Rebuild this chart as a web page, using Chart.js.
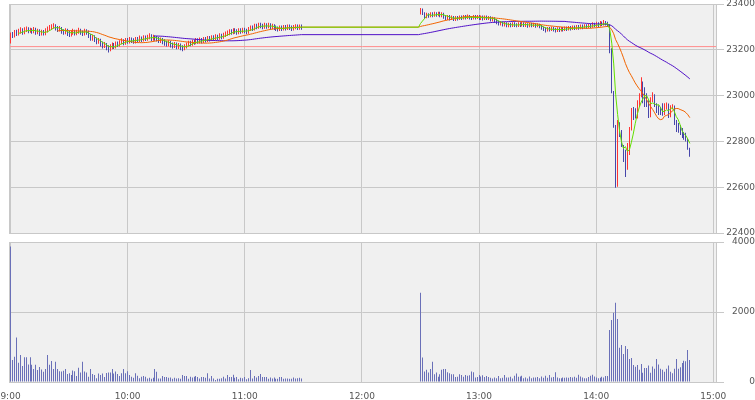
<!DOCTYPE html>
<html>
<head>
<meta charset="utf-8">
<script src="https://cdn.jsdelivr.net/npm/chart.js@4/dist/chart.umd.min.js"></script>
<style>
  html, body { margin: 0; padding: 0; background: #fff; }
  #wrap { position: relative; width: 755px; height: 400px; }
  canvas { position: absolute; left: 0; }
  #priceChart { top: 0; }
  #volumeChart { top: 236px; }
</style>
</head>
<body>
<div id="wrap">
  <canvas id="priceChart" width="755" height="236"></canvas>
  <canvas id="volumeChart" width="755" height="164"></canvas>
</div>
<script>
// minutes after 9:00; morning session then afternoon session (lunch gap in between)
const amStart = 0;
const pmStart = 210;
const amOpen = 23230;
const pmOpen = 23356;
const prevClose = 23214;

const priceTicks = [22400, 22600, 22800, 23000, 23200, 23400];
const volumeTicks = [0, 2000, 4000];
const hourTicks = [0, 60, 120, 180, 240, 300, 360];

const amHigh = [
  23276, 23278, 23286, 23288, 23292, 23298, 23294, 23298, 23302, 23298,
  23296, 23294, 23300, 23296, 23292, 23290, 23288, 23286, 23294, 23302,
  23308, 23312, 23316, 23312, 23304, 23304, 23300, 23290, 23294, 23292,
  23282, 23284, 23292, 23288, 23288, 23296, 23292, 23284, 23292, 23290,
  23284, 23270, 23266, 23264, 23254, 23252, 23248, 23236, 23234, 23230,
  23220, 23224, 23232, 23230, 23236, 23236, 23242, 23250, 23246, 23252,
  23252, 23256, 23254, 23250, 23256, 23256, 23262, 23258, 23264, 23262,
  23266, 23272, 23268, 23266, 23264, 23260, 23256, 23254, 23252, 23246,
  23240, 23242, 23240, 23232, 23234, 23232, 23230, 23228, 23220, 23224,
  23232, 23240, 23240, 23244, 23244, 23252, 23250, 23254, 23252, 23256,
  23256, 23260, 23260, 23264, 23264, 23268, 23266, 23272, 23270, 23274,
  23280, 23284, 23290, 23290, 23294, 23294, 23290, 23294, 23294, 23296,
  23296, 23292, 23300, 23306, 23306, 23314, 23314, 23318, 23318, 23314,
  23318, 23316, 23318, 23316, 23314, 23312, 23306, 23302, 23306, 23306,
  23308, 23308, 23310, 23310, 23306, 23308, 23312, 23310, 23310, 23310
];
const amLow = [
  23228, 23252, 23254, 23260, 23262, 23270, 23266, 23268, 23278, 23272,
  23274, 23270, 23272, 23266, 23268, 23260, 23262, 23262, 23264, 23276,
  23282, 23286, 23292, 23284, 23278, 23280, 23270, 23266, 23268, 23260,
  23256, 23258, 23266, 23262, 23264, 23270, 23266, 23260, 23262, 23266,
  23252, 23240, 23240, 23234, 23224, 23226, 23214, 23206, 23208, 23198,
  23188, 23194, 23202, 23204, 23206, 23212, 23214, 23224, 23220, 23222,
  23226, 23228, 23230, 23226, 23228, 23232, 23234, 23234, 23236, 23238,
  23240, 23246, 23238, 23240, 23240, 23236, 23230, 23230, 23224, 23218,
  23214, 23216, 23210, 23206, 23208, 23202, 23204, 23198, 23194, 23198,
  23206, 23214, 23216, 23218, 23222, 23224, 23226, 23228, 23228, 23230,
  23232, 23234, 23236, 23238, 23240, 23242, 23242, 23244, 23246, 23248,
  23256, 23260, 23264, 23266, 23268, 23270, 23266, 23268, 23270, 23272,
  23272, 23268, 23270, 23282, 23282, 23284, 23290, 23292, 23294, 23290,
  23292, 23292, 23294, 23288, 23290, 23286, 23282, 23280, 23282, 23282,
  23284, 23284, 23286, 23286, 23282, 23284, 23290, 23286, 23288, 23288
];
const amClose = [
  23268, 23262, 23275, 23270, 23280, 23284, 23276, 23286, 23290, 23282,
  23285, 23280, 23288, 23276, 23282, 23270, 23278, 23272, 23284, 23290,
  23296, 23300, 23305, 23294, 23288, 23292, 23280, 23276, 23284, 23270,
  23268, 23274, 23280, 23272, 23278, 23284, 23276, 23270, 23282, 23276,
  23262, 23250, 23256, 23244, 23236, 23240, 23226, 23218, 23222, 23210,
  23204, 23212, 23220, 23214, 23226, 23222, 23232, 23238, 23230, 23242,
  23236, 23244, 23240, 23236, 23246, 23242, 23250, 23244, 23252, 23248,
  23254, 23260, 23248, 23256, 23250, 23246, 23240, 23244, 23236, 23230,
  23226, 23232, 23222, 23218, 23224, 23214, 23220, 23210, 23206, 23214,
  23222, 23230, 23226, 23234, 23232, 23240, 23236, 23244, 23238, 23246,
  23242, 23250, 23246, 23254, 23250, 23258, 23252, 23262, 23256, 23264,
  23268, 23272, 23280, 23276, 23284, 23280, 23276, 23284, 23280, 23286,
  23282, 23278, 23290, 23296, 23292, 23304, 23300, 23308, 23304, 23300,
  23306, 23302, 23308, 23298, 23304, 23296, 23292, 23290, 23296, 23292,
  23298, 23294, 23300, 23296, 23292, 23298, 23302, 23296, 23300, 23298
];
const amVolume = [
  3870, 630, 720, 1270, 550, 770, 460, 710, 710, 500,
  710, 490, 370, 490, 340, 430, 360, 290, 370, 770,
  490, 600, 370, 580, 370, 310, 300, 320, 370, 230,
  250, 200, 330, 310, 170, 410, 270, 580, 300, 270,
  150, 370, 230, 200, 110, 240, 200, 240, 140, 260,
  270, 270, 370, 240, 300, 230, 170, 250, 370, 250,
  310, 200, 150, 120, 250, 180, 110, 150, 170, 150,
  100, 120, 90, 120, 370, 290, 100, 100, 170, 140,
  140, 120, 130, 90, 120, 100, 110, 90, 200, 170,
  170, 90, 150, 130, 150, 170, 140, 100, 140, 140,
  120, 250, 100, 170, 100, 60, 90, 90, 110, 150,
  100, 200, 140, 140, 210, 120, 140, 80, 120, 110,
  140, 80, 110, 340, 100, 170, 130, 170, 230, 140,
  140, 140, 90, 130, 100, 130, 90, 90, 140, 140,
  90, 100, 100, 90, 90, 130, 100, 110, 120, 100
];

const pmHigh = [
  23382, 23380, 23364, 23362, 23360, 23364, 23364, 23366, 23364, 23366,
  23366, 23364, 23362, 23352, 23352, 23352, 23350, 23348, 23348, 23348,
  23350, 23350, 23352, 23352, 23354, 23352, 23348, 23352, 23352, 23352,
  23352, 23350, 23350, 23350, 23350, 23348, 23346, 23344, 23342, 23334,
  23328, 23326, 23324, 23322, 23320, 23318, 23318, 23320, 23320, 23316,
  23320, 23320, 23322, 23320, 23318, 23316, 23318, 23318, 23318, 23316,
  23316, 23314, 23308, 23302, 23298, 23300, 23300, 23302, 23300, 23296,
  23298, 23298, 23300, 23300, 23302, 23302, 23304, 23304, 23306, 23306,
  23308, 23308, 23310, 23310, 23312, 23312, 23314, 23314, 23320, 23318,
  23322, 23320, 23326, 23324, 23330, 23326, 23322, 23310, 23207, 23020,
  22872, 22893, 22884, 22850, 22784, 22763, 22793, 22863, 22946, 22950,
  22945, 22980, 23010, 23080, 23062, 23037, 23010, 22980, 22993, 23015,
  23006, 22967, 22958, 22950, 22967, 22967, 22970, 22966, 22958, 22962,
  22957, 22893, 22880, 22872, 22859, 22841, 22838, 22815, 22772
];
const pmLow = [
  23354, 23352, 23336, 23338, 23340, 23342, 23342, 23344, 23344, 23346,
  23342, 23342, 23336, 23330, 23330, 23328, 23330, 23326, 23326, 23328,
  23330, 23330, 23332, 23332, 23334, 23332, 23330, 23332, 23332, 23334,
  23330, 23330, 23328, 23330, 23330, 23330, 23324, 23324, 23318, 23312,
  23306, 23306, 23302, 23302, 23298, 23298, 23298, 23300, 23300, 23298,
  23300, 23300, 23302, 23300, 23300, 23296, 23298, 23298, 23300, 23296,
  23298, 23294, 23288, 23282, 23276, 23280, 23280, 23282, 23280, 23276,
  23278, 23278, 23280, 23280, 23282, 23282, 23284, 23284, 23286, 23286,
  23288, 23288, 23290, 23290, 23292, 23292, 23294, 23294, 23296, 23298,
  23300, 23300, 23302, 23304, 23306, 23306, 23300, 23185, 23010, 22860,
  22598, 22602, 22819, 22776, 22710, 22645, 22676, 22741, 22848, 22893,
  22900, 22900, 22950, 22993, 22967, 22950, 22950, 22902, 22905, 22972,
  22950, 22924, 22915, 22915, 22912, 22915, 22940, 22902, 22905, 22940,
  22872, 22841, 22838, 22828, 22815, 22807, 22800, 22763, 22733
];
const pmClose = [
  23376, 23356, 23346, 23352, 23348, 23356, 23350, 23356, 23352, 23358,
  23350, 23356, 23344, 23338, 23344, 23336, 23340, 23334, 23340, 23336,
  23342, 23338, 23344, 23340, 23346, 23340, 23338, 23344, 23340, 23344,
  23338, 23342, 23336, 23342, 23338, 23340, 23332, 23336, 23326, 23320,
  23314, 23318, 23310, 23314, 23306, 23310, 23306, 23312, 23308, 23306,
  23312, 23308, 23314, 23308, 23310, 23304, 23310, 23306, 23310, 23304,
  23308, 23302, 23296, 23290, 23286, 23292, 23288, 23294, 23288, 23284,
  23290, 23286, 23292, 23288, 23294, 23290, 23296, 23292, 23298, 23294,
  23300, 23296, 23302, 23298, 23304, 23300, 23306, 23302, 23310, 23306,
  23312, 23308, 23316, 23312, 23318, 23314, 23308, 23190, 23015, 22865,
  22640, 22880, 22825, 22780, 22720, 22680, 22780, 22850, 22940, 22910,
  22905, 22975, 23000, 23060, 22990, 22980, 22960, 22910, 22985, 23005,
  22960, 22930, 22925, 22920, 22918, 22960, 22965, 22910, 22950, 22955,
  22880, 22850, 22845, 22835, 22825, 22815, 22805, 22770, 22740
];
const pmVolume = [
  2550, 700, 300, 350, 270, 370, 580, 220, 270, 150,
  220, 350, 370, 370, 280, 250, 220, 220, 140, 150,
  220, 200, 150, 200, 180, 190, 300, 280, 130, 140,
  200, 160, 190, 140, 170, 140, 120, 100, 130, 110,
  170, 110, 120, 200, 130, 130, 150, 100, 180, 240,
  150, 160, 180, 110, 130, 100, 160, 110, 130, 130,
  140, 110, 160, 120, 180, 120, 200, 130, 140, 280,
  130, 110, 110, 130, 120, 130, 120, 140, 130, 150,
  120, 210, 160, 130, 110, 110, 140, 180, 210, 160,
  130, 110, 120, 150, 130, 170, 170, 1485, 1771, 1980,
  2266, 1800, 980, 1057, 800, 1028, 943, 657, 685, 486,
  438, 486, 352, 514, 267, 400, 400, 470, 267, 440,
  380, 660, 500, 380, 350, 290, 380, 470, 290, 250,
  380, 660, 380, 420, 540, 610, 590, 914, 630
];

const UP = '#ff3333';
const DOWN = '#4646aa';
const VOLUME = '#6a70b8';
const MA5 = '#62e000';
const MA25 = '#f26400';
const MA75 = '#5010c8';
const REF = '#ff8c8c';
const GRID = '#c8c8c8';
const PLOT_BG = '#f0f0f0';
const TEXT = '#555';
const font = { family: 'DejaVu Sans', size: 9 };
const xMin = -0.77;
const xMax = 361.4;

// candles: one thin low-high line per minute, coloured by direction
const candles = [];
const candleColors = [];
function addSession(start, open, highs, lows, closes) {
  closes.forEach((c, i) => {
    const o = i === 0 ? open : closes[i - 1];
    candles.push({ x: start + i, y: [lows[i], highs[i]] });
    candleColors.push(c >= o ? UP : DOWN);
  });
}
addSession(amStart, amOpen, amHigh, amLow, amClose);
addSession(pmStart, pmOpen, pmHigh, pmLow, pmClose);

const allClose = amClose.concat(pmClose);
const allMinute = amClose.map((_, i) => amStart + i).concat(pmClose.map((_, i) => pmStart + i));

function movingAverage(period) {
  const pts = [];
  let sum = 0;
  allClose.forEach((c, i) => {
    sum += c;
    if (i >= period) sum -= allClose[i - period];
    if (i >= period - 1) {
      pts.push({ x: allMinute[i], y: sum / period });
      // lines stay flat through the lunch break
      if (i === amClose.length - 1) pts.push({ x: pmStart - 1, y: sum / period });
    }
  });
  return pts;
}

const volumes = amVolume.map((v, i) => ({ x: amStart + i, y: v }))
  .concat(pmVolume.map((v, i) => ({ x: pmStart + i, y: v })));

const panelFrame = {
  id: 'panelFrame',
  beforeDraw(chart) {
    const { ctx, chartArea: a } = chart;
    ctx.save();
    ctx.fillStyle = PLOT_BG;
    ctx.fillRect(a.left, a.top, a.right - a.left, a.bottom - a.top);
    ctx.restore();
  },
  // 1px bars: snap them onto whole pixels so they stay crisp
  beforeDatasetsDraw(chart) {
    chart.data.datasets.forEach((ds, i) => {
      const meta = chart.getDatasetMeta(i);
      if (meta.type !== 'bar') return;
      meta.data.forEach(el => { el.x = Math.floor(el.x) + 0.5; });
    });
  },
  afterDraw(chart) {
    const { ctx, chartArea: a } = chart;
    ctx.save();
    ctx.strokeStyle = GRID;
    ctx.lineWidth = 1;
    const l = Math.round(a.left) + 0.5, t = Math.round(a.top) + 0.5;
    const r = Math.round(a.right) + 0.5, b = Math.round(a.bottom) + 0.5;
    ctx.strokeRect(l, t, r - l, b - t);
    ctx.restore();
  }
};

function lineSet(data, color, order) {
  return {
    type: 'line', data, borderColor: color, borderWidth: 1,
    pointRadius: 0, tension: 0, fill: false, order
  };
}

function xScale(showLabels, height) {
  return {
    type: 'linear', min: xMin, max: xMax, offset: false,
    afterBuildTicks: s => { s.ticks = hourTicks.map(v => ({ value: v })); },
    afterFit: s => { s.height = height; s.paddingLeft = 0; s.paddingRight = 0; },
    grid: { color: GRID, drawTicks: false, offset: false },
    border: { display: false },
    ticks: {
      display: showLabels, color: TEXT, font, padding: 9,
      autoSkip: false, maxRotation: 0,
      callback: v => (9 + v / 60) + ':00'
    }
  };
}

function yScale(min, max, tickList) {
  return {
    position: 'right', min, max,
    afterBuildTicks: s => { s.ticks = tickList.map(v => ({ value: v })); },
    afterFit: s => { s.width = 39; s.paddingTop = 0; s.paddingBottom = 0; },
    grid: { color: GRID, tickLength: 8 },
    border: { display: false },
    ticks: { color: TEXT, font, padding: 1, crossAlign: 'far', callback: v => String(v) }
  };
}

const common = {
  responsive: false,
  animation: false,
  events: [],
  plugins: { legend: { display: false }, tooltip: { enabled: false } }
};

new Chart(document.getElementById('priceChart').getContext('2d'), {
  type: 'bar',
  data: {
    datasets: [
      lineSet(movingAverage(5), MA5, 1),
      lineSet(movingAverage(25), MA25, 2),
      lineSet(movingAverage(75), MA75, 3),
      {
        type: 'bar', data: candles, backgroundColor: candleColors,
        barThickness: 1, borderWidth: 0, inflateAmount: 0, grouped: false, order: 4
      },
      lineSet([{ x: xMin, y: prevClose }, { x: xMax, y: prevClose }], REF, 5)
    ]
  },
  options: {
    ...common,
    layout: { padding: { left: 9, top: 4, right: 0, bottom: 3 } },
    scales: {
      x: xScale(false, 0),
      y: yScale(22400, 23400, priceTicks)
    }
  },
  plugins: [panelFrame]
});

new Chart(document.getElementById('volumeChart').getContext('2d'), {
  type: 'bar',
  data: {
    datasets: [{
      data: volumes, backgroundColor: VOLUME,
      barThickness: 1, borderWidth: 0, inflateAmount: 0, grouped: false
    }]
  },
  options: {
    ...common,
    layout: { padding: { left: 9, top: 6, right: 0, bottom: 0 } },
    scales: {
      x: xScale(true, 18),
      y: yScale(0, 4000, volumeTicks)
    }
  },
  plugins: [panelFrame]
});
</script>
</body>
</html>
